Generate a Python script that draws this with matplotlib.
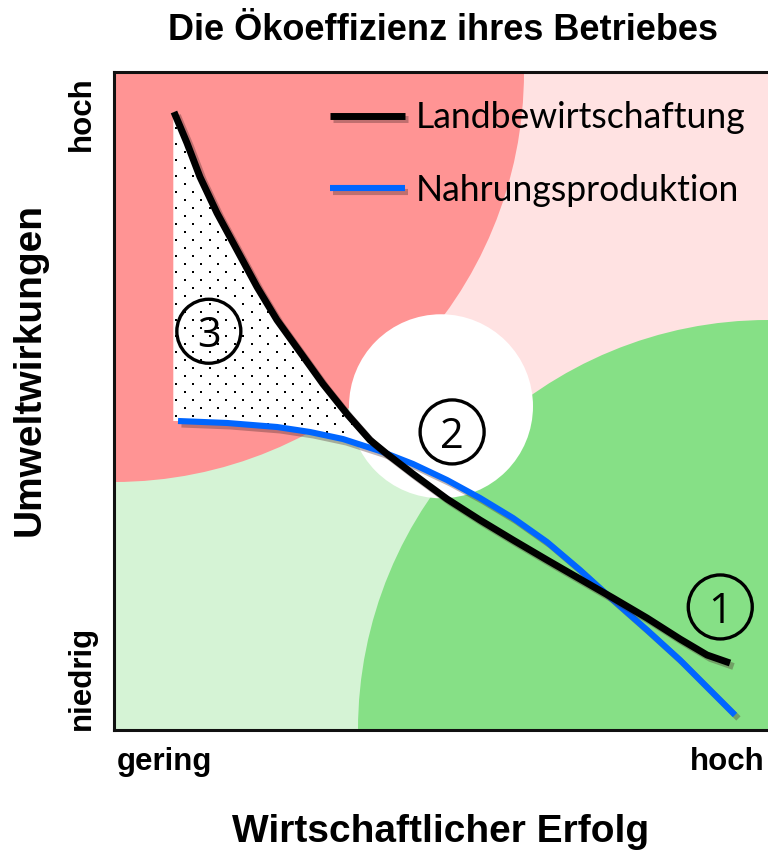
import numpy as np
import matplotlib
matplotlib.use("Agg")
import matplotlib.pyplot as plt
from matplotlib.patches import Ellipse, Rectangle
import matplotlib.patheffects as pe

# ---- data (0..100 scales: x = wirtschaftlicher Erfolg, y = Umweltwirkungen) ----
land_x = [9.17, 11.16, 13.15, 15.75, 18.81, 21.87, 24.92, 28.44, 31.96, 35.63, 39.14, 41.74,
          45.72, 50.92, 55.96, 61.01, 66.21, 71.25, 76.30, 81.50, 86.54, 90.67, 94.19]
land_y = [93.92, 89.21, 84.04, 78.57, 72.95, 67.33, 62.31, 57.45, 52.58, 48.02, 44.07, 41.95,
          38.91, 35.11, 31.91, 28.88, 25.84, 22.95, 20.06, 17.02, 13.83, 11.40, 10.18]

nahr_x = [9.79, 17.28, 24.92, 29.97, 35.02, 40.67, 45.72, 50.92, 55.96, 61.01, 66.21,
          71.25, 76.30, 81.50, 86.54, 90.67, 94.95]
nahr_y = [46.96, 46.66, 46.05, 45.29, 44.22, 42.40, 40.43, 37.99, 35.26, 32.22, 28.57,
          24.32, 19.76, 15.20, 10.64, 6.53, 2.28]

series_labels = ["Landbewirtschaftung", "Nahrungsproduktion"]
title = "Die Ökoeffizienz ihres Betriebes"
xlabel = "Wirtschaftlicher Erfolg"
ylabel = "Umweltwirkungen"
x_ticklabels = ["gering", "hoch"]
y_ticklabels = ["niedrig", "hoch"]
zone_labels = ["1", "2", "3"]

# ---- figure ----
W, H = 768, 851
fig = plt.figure(figsize=(W / 100, H / 100), dpi=100)
fig.patch.set_facecolor("white")
ax = fig.add_axes([114 / W, (H - 730) / H, 654 / W, 658 / H])
ax.set_xlim(0, 100)
ax.set_ylim(0, 100)
ax.set_xticks([])
ax.set_yticks([])
ax.set_facecolor("#FFE2E2")
for s in ["left", "top", "bottom"]:
    ax.spines[s].set_linewidth(2.2)
    ax.spines[s].set_color("#111111")
    ax.spines[s].set_zorder(8)
ax.spines["right"].set_visible(False)

sx, sy = 6.54, 6.58  # px per data unit

# background zones
ax.add_patch(Rectangle((0, 0), 50, 50, facecolor="#D5F3D5", edgecolor="none", zorder=0.5))
ax.add_patch(Ellipse((0, 100), 2 * 410 / sx, 2 * 410 / sy, facecolor="#FF9494", edgecolor="none", zorder=1))
ax.add_patch(Ellipse((100, 0), 2 * 410 / sx, 2 * 410 / sy, facecolor="#86E086", edgecolor="none", zorder=1))
ax.add_patch(Ellipse((50, 49.2), 2 * 92 / sx, 2 * 92 / sy, facecolor="white", edgecolor="none", zorder=1.5))

# stippled area between the curves
xx = np.linspace(land_x[0] - 0.1, 42.0, 400)
top = np.interp(xx, land_x, land_y)
bot = np.interp(xx, nahr_x, nahr_y)
area = ax.fill_between(xx, bot, top, where=top >= bot, interpolate=True,
                       facecolor="white", edgecolor="none", linewidth=0, zorder=2)
gx, gy = np.meshgrid(np.arange(0, 50, 16.7 / sx), np.arange(0, 100, 8.0 / sy))
gx = gx + (np.arange(gx.shape[0])[:, None] % 2) * (8.35 / sx)
dots = ax.scatter(gx.ravel() + 0.6, gy.ravel() + 0.3, s=3.0, marker="s", color="black",
                  linewidths=0, zorder=2.5)
dots.set_clip_path(area.get_paths()[0], ax.transData)

def shadow():
    return [pe.SimpleLineShadow(offset=(2.5, -2.5), shadow_color="#4a2a2a", alpha=0.35),
            pe.Normal()]

ax.plot(land_x, land_y, color="black", lw=5.0, solid_capstyle="butt", solid_joinstyle="round",
        zorder=4, label=series_labels[0], path_effects=shadow())
ax.plot(nahr_x, nahr_y, color="#0066FF", lw=4.4, solid_capstyle="butt", solid_joinstyle="round",
        zorder=3, label=series_labels[1], path_effects=shadow())

# circled numbers
circ_pos = [(92.7, 18.7), (51.7, 45.3), (14.5, 60.6)]
for lab, (cx, cy) in zip(zone_labels, circ_pos):
    ax.add_patch(Ellipse((cx, cy), 64 / sx, 64 / sy, facecolor="none", edgecolor="black",
                         lw=2.4, zorder=5))
    ax.text(cx, cy, lab, ha="center", va="center_baseline", fontsize=30,
            family="Open Sans", color="black", zorder=6)

leg = ax.legend(loc="upper left", bbox_to_anchor=(330 / W, 1 - 101 / H),
                bbox_transform=fig.transFigure, frameon=False,
                prop={"family": "Lato", "size": 25.6}, handlelength=2.1,
                handletextpad=0.31, labelspacing=1.12, borderpad=0, borderaxespad=0)
leg.set_zorder(7)

bold = dict(family="Liberation Sans", fontweight="bold", color="black")
fig.text(443 / W, 1 - 30 / H, title, ha="center", va="center", fontsize=26, **bold)
fig.text(441 / W, 1 - 832 / H, xlabel, ha="center", va="center", fontsize=28, **bold)
fig.text(30 / W, 1 - 370 / H, ylabel, ha="center", va="center", rotation=90, fontsize=28, **bold)
fig.text(117 / W, 1 - 762 / H, x_ticklabels[0], ha="left", va="center", fontsize=22.5, **bold)
fig.text(765 / W, 1 - 762 / H, x_ticklabels[1], ha="right", va="center", fontsize=22.5, **bold)
fig.text(82 / W, 1 - 678 / H, y_ticklabels[0], ha="center", va="center", rotation=90, fontsize=22.5, **bold)
fig.text(82 / W, 1 - 114 / H, y_ticklabels[1], ha="center", va="center", rotation=90, fontsize=22.5, **bold)

fig.savefig("out.png", dpi=100)
